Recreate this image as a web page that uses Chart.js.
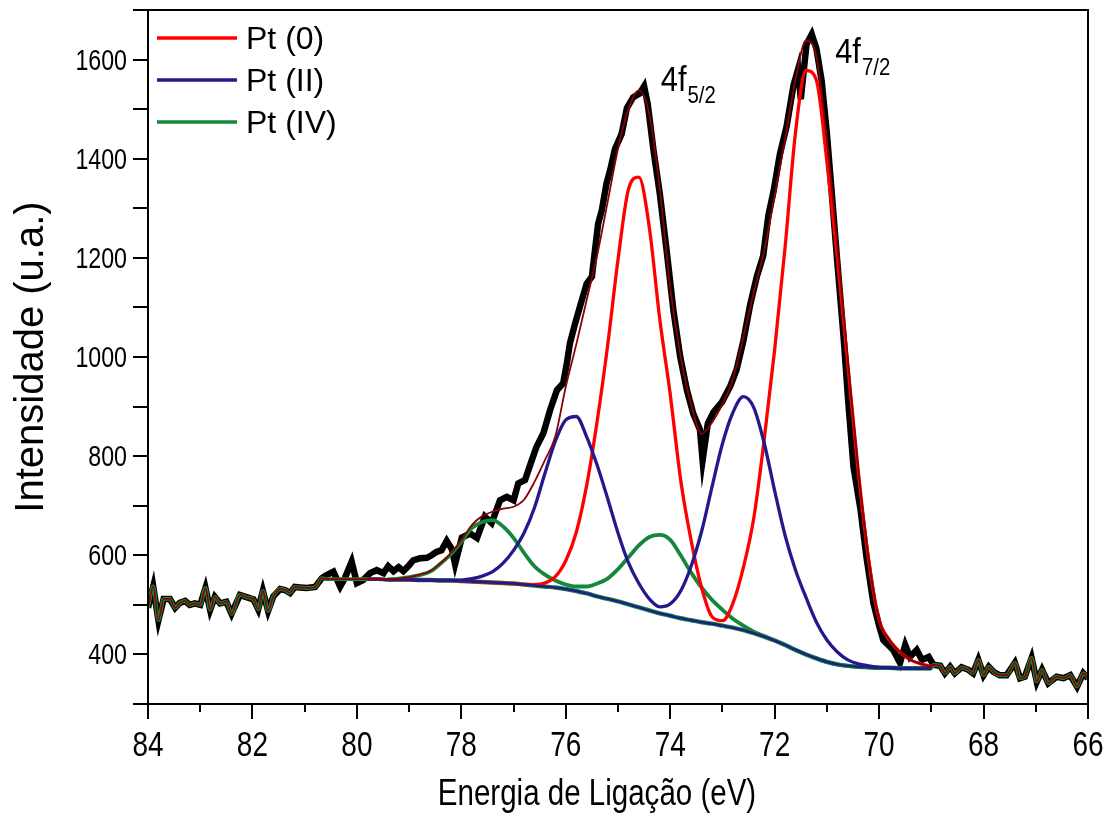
<!DOCTYPE html>
<html>
<head>
<meta charset="utf-8">
<title>Pt 4f XPS</title>
<script src="https://cdn.jsdelivr.net/npm/chart.js@4.4.1/dist/chart.umd.min.js"></script>
<style>
    html, body { margin: 0; padding: 0; background: #fff; }
</style>
</head>
<body>
<canvas id="xps-chart" width="1111" height="813"></canvas>
<script>
// Measured spectrum (binding energy in eV / counts)
const dataEnergy = [84.00, 83.90, 83.80, 83.70, 83.58, 83.48, 83.39, 83.29, 83.20, 83.10,
    83.00, 82.90, 82.81, 82.72, 82.62, 82.50, 82.40, 82.24, 82.10, 81.98,
    81.89, 81.80, 81.70, 81.60, 81.47, 81.38, 81.28, 81.19, 81.09, 80.96,
    80.80, 80.67, 80.58, 80.45, 80.32, 80.23, 80.10, 80.00, 79.88, 79.75,
    79.62, 79.49, 79.40, 79.30, 79.20, 79.11, 79.00, 78.92, 78.79, 78.66,
    78.57, 78.47, 78.38, 78.28, 78.18, 78.12, 77.99, 77.83, 77.70, 77.55,
    77.42, 77.26, 77.13, 77.00, 76.91, 76.78, 76.65, 76.56, 76.43, 76.30,
    76.17, 76.05, 75.98, 75.92, 75.82, 75.73, 75.60, 75.50, 75.44, 75.38,
    75.31, 75.22, 75.15, 75.06, 74.93, 74.83, 74.71, 74.58, 74.50, 74.43,
    74.32, 74.20, 74.07, 73.94, 73.81, 73.68, 73.56, 73.43, 73.38, 73.28,
    73.17, 73.01, 72.85, 72.73, 72.60, 72.47, 72.34, 72.22, 72.12, 72.02,
    71.90, 71.77, 71.64, 71.55, 71.50, 71.39, 71.29, 71.20, 71.10, 71.00,
    70.91, 70.81, 70.68, 70.59, 70.49, 70.36, 70.24, 70.11, 70.00, 69.92,
    69.73, 69.60, 69.50, 69.41, 69.28, 69.18, 69.05, 68.96, 68.83, 68.74,
    68.64, 68.55, 68.42, 68.29, 68.20, 68.10, 68.00, 67.90, 67.81, 67.69,
    67.56, 67.40, 67.30, 67.21, 67.08, 66.98, 66.88, 66.76, 66.60, 66.47,
    66.34, 66.21, 66.09, 66.00];
const dataCounts = [494, 537, 469, 512, 512, 494, 504, 508, 500, 503,
    500, 534, 490, 516, 503, 506, 482, 520, 515, 511,
    491, 528, 488, 517, 532, 530, 524, 536, 535, 534,
    536, 554, 560, 567, 537, 554, 587, 544, 550, 564,
    570, 564, 578, 568, 576, 568, 580, 590, 594, 595,
    600, 607, 610, 629, 612, 582, 636, 644, 635, 678,
    665, 711, 718, 711, 745, 752, 792, 819, 846, 893,
    933, 947, 987, 1028, 1068, 1101, 1148, 1162, 1216, 1269,
    1296, 1350, 1377, 1419, 1450, 1502, 1524, 1532, 1546, 1510,
    1417, 1330, 1216, 1095, 1001, 933, 886, 853, 792, 866,
    889, 909, 941, 974, 1032, 1105, 1163, 1204, 1286, 1335,
    1409, 1466, 1548, 1581, 1520, 1631, 1651, 1622, 1557, 1450,
    1335, 1204, 1040, 909, 778, 695, 595, 504, 458, 429,
    409, 383, 419, 395, 409, 389, 395, 379, 377, 362,
    375, 362, 374, 369, 362, 389, 358, 375, 365, 358,
    358, 383, 352, 355, 393, 345, 369, 342, 355, 352,
    358, 335, 362, 352];

// Fit grid and fitted curves (components sit on the background)
const fitEnergy = [80.6, 80.4, 80.2, 80.0, 79.8, 79.6, 79.4, 79.2, 79.0, 78.8,
    78.6, 78.4, 78.2, 78.0, 77.8, 77.6, 77.4, 77.2, 77.0, 76.8,
    76.6, 76.4, 76.2, 76.0, 75.8, 75.6, 75.4, 75.2, 75.0, 74.8,
    74.6, 74.4, 74.2, 74.0, 73.8, 73.6, 73.4, 73.2, 73.0, 72.8,
    72.6, 72.4, 72.2, 72.0, 71.8, 71.6, 71.4, 71.2, 71.0, 70.8,
    70.6, 70.4, 70.2, 70.0, 69.8, 69.6, 69.4, 69.2, 69.0];
const backgroundFit = [null, null, null, null, null, null, 551, 551, 551, 550,
    550, 549, 549, 548, 547, 546, 545, 544, 543, 541,
    539, 537, 535, 532, 528, 523, 517, 512, 507, 501,
    495, 489, 483, 478, 473, 469, 465, 462, 458, 454,
    449, 443, 436, 428, 419, 409, 400, 392, 385, 380,
    377, 375, 374, 373, 373, 372, 372, 372, 372];
const pt0Fit = [null, null, null, null, 552, 552, 551, 551, 551, 550,
    550, 549, 549, 548, 547, 546, 545, 544, 543, 541,
    541, 544, 557, 589, 646, 741, 870, 1022, 1196, 1338,
    1363, 1261, 1076, 925, 752, 630, 535, 476, 468, 503,
    575, 675, 834, 1015, 1222, 1454, 1578, 1558, 1395, 1200,
    985, 770, 590, 470, 429, 405, 389, 381, 376];
const pt2Fit = [null, null, null, null, 552, 552, 551, 551, 551, 550,
    550, 550, 550, 550, 553, 558, 567, 584, 610, 645,
    696, 765, 830, 873, 880, 839, 782, 715, 645, 585,
    543, 512, 496, 502, 528, 578, 648, 738, 825, 888,
    920, 898, 826, 730, 640, 570, 515, 465, 429, 405,
    389, 381, 377, 374, 373, 372, 372, 372, 372];
const pt4Fit = [552, 552, 552, 552, 552, 552, 551, 553, 556, 560,
    567, 583, 602, 627, 655, 667, 671, 658, 635, 605,
    578, 561, 549, 541, 537, 537, 543, 553, 572, 596,
    620, 637, 641, 631, 600, 565, 535, 510, 490, 472,
    458, 446, 437, 428, 419, 409, 400, 392, 385, 380,
    377, 375, 374, 373, 373, 372, 372, 372, 372];
const envelopeFit = [552, 552, 552, 552, 552, 552, 551, 553, 556, 561,
    568, 584, 604, 630, 661, 679, 688, 694, 698, 712,
    748, 792, 840, 940, 1025, 1115, 1205, 1312, 1420, 1500,
    1538, 1490, 1340, 1140, 1000, 905, 845, 868, 905, 955,
    1040, 1130, 1215, 1325, 1440, 1560, 1638, 1605, 1440, 1225,
    997, 776, 593, 470, 429, 405, 389, 381, 376];

// Ends of the spectrum outside the fit window
const fitWindow = [68.96, 80.67];

const xTickLabels = [84, 82, 80, 78, 76, 74, 72, 70, 68, 66];
const yTickLabels = [400, 600, 800, 1000, 1200, 1400, 1600];

const legendNames = ['Pt (0)', 'Pt (II)', 'Pt (IV)'];
const legendColors = ['#ff0000', '#221a8c', '#15873a'];

const peakSubscripts = ['5/2', '7/2'];
const peakLabelEnergy = [74.18, 70.84];
const peakLabelCounts = [1536, 1593];

const FONT = '"Liberation Sans", Arial, sans-serif';

function toPoints(xs, ys) {
    return xs.map((x, i) => ({ x: x, y: ys[i] }));
}

const dataPoints = toPoints(dataEnergy, dataCounts);
const headPoints = dataPoints.filter(p => p.x >= fitWindow[1]);
const tailPoints = dataPoints.filter(p => p.x <= fitWindow[0]);

function withEnds(values) {
    return headPoints.concat(toPoints(fitEnergy, values), tailPoints);
}

// the original figure is squeezed horizontally, so text is drawn narrowed
function narrowText(ctx, text, x, y, size, align, sx) {
    ctx.save();
    ctx.font = size + 'px ' + FONT;
    ctx.textAlign = align;
    ctx.textBaseline = 'alphabetic';
    ctx.translate(x, y);
    ctx.scale(sx, 1);
    ctx.fillText(text, 0, 0);
    const w = ctx.measureText(text).width * sx;
    ctx.restore();
    return w;
}

const framePlugin = {
    id: 'frame',
    afterDatasetsDraw(chart) {
        const { ctx, chartArea: a, scales } = chart;
        const x = scales.x, y = scales.y;
        ctx.save();
        ctx.strokeStyle = '#000';
        ctx.lineWidth = 2;
        ctx.strokeRect(a.left, a.top, a.right - a.left, a.bottom - a.top);

        // tick marks, outside the frame
        ctx.beginPath();
        y.ticks.forEach(t => {
            const py = Math.round(y.getPixelForValue(t.value));
            ctx.moveTo(a.left - 15, py);
            ctx.lineTo(a.left, py);
        });
        x.ticks.forEach(t => {
            const px = Math.round(x.getPixelForValue(t.value));
            const len = xTickLabels.includes(t.value) ? 15 : 8;
            ctx.moveTo(px, a.bottom);
            ctx.lineTo(px, a.bottom + len);
        });
        ctx.stroke();

        // tick labels and x title
        ctx.fillStyle = '#000';
        xTickLabels.forEach(v => {
            narrowText(ctx, String(v), x.getPixelForValue(v), a.bottom + 52, 35, 'center', 0.8);
        });
        yTickLabels.forEach(v => {
            narrowText(ctx, String(v), a.left - 21, y.getPixelForValue(v) + 10, 29, 'right', 0.8);
        });
        narrowText(ctx, 'Energia de Ligação (eV)', 597, 805, 36, 'center', 0.82);

        // legend
        legendNames.forEach((name, i) => {
            const ly = a.top + 28 + i * 42;
            ctx.strokeStyle = legendColors[i];
            ctx.lineWidth = 3.5;
            ctx.beginPath();
            ctx.moveTo(a.left + 9, ly);
            ctx.lineTo(a.left + 89, ly);
            ctx.stroke();
            ctx.fillStyle = '#000';
            ctx.font = '32px ' + FONT;
            ctx.textAlign = 'left';
            ctx.textBaseline = 'alphabetic';
            ctx.fillText(name, a.left + 98, ly + 11);
        });

        // peak labels
        peakSubscripts.forEach((sub, i) => {
            const px = x.getPixelForValue(peakLabelEnergy[i]);
            const py = y.getPixelForValue(peakLabelCounts[i]);
            const w = narrowText(ctx, '4f', px, py, 35, 'left', 0.88);
            narrowText(ctx, sub, px + w + 1, py + 12, 24, 'left', 0.85);
        });
        ctx.restore();
    }
};

const ctx = document.getElementById('xps-chart').getContext('2d');
new Chart(ctx, {
    type: 'scatter',
    data: {
        datasets: [
            {
                label: 'Envelope',
                data: withEnds(envelopeFit),
                borderColor: '#8b0000',
                borderWidth: 1.8,
                cubicInterpolationMode: 'monotone',
                order: 0
            },
            {
                label: 'Background',
                data: toPoints(fitEnergy, backgroundFit),
                borderColor: legendColors[1],
                borderWidth: 2.4,
                cubicInterpolationMode: 'monotone',
                order: 1
            },
            {
                label: 'Pt (II)',
                data: toPoints(fitEnergy, pt2Fit),
                borderColor: legendColors[1],
                borderWidth: 3.3,
                cubicInterpolationMode: 'monotone',
                order: 2
            },
            {
                label: 'Pt (0)',
                data: toPoints(fitEnergy, pt0Fit),
                borderColor: legendColors[0],
                borderWidth: 3.3,
                cubicInterpolationMode: 'monotone',
                order: 3
            },
            {
                label: 'Pt (IV)',
                data: withEnds(pt4Fit),
                borderColor: legendColors[2],
                borderWidth: 3.8,
                cubicInterpolationMode: 'monotone',
                order: 4
            },
            {
                label: 'Background edge',
                data: toPoints(fitEnergy, backgroundFit),
                borderColor: legendColors[2],
                borderWidth: 4.4,
                cubicInterpolationMode: 'monotone',
                order: 5
            },
            {
                label: 'Data',
                data: dataPoints,
                borderColor: '#000',
                borderWidth: 6.5,
                borderJoinStyle: 'miter',
                order: 6
            }
        ]
    },
    options: {
        responsive: false,
        animation: false,
        showLine: true,
        spanGaps: false,
        layout: { padding: { top: 10, right: 23, left: 0, bottom: 0 } },
        elements: { point: { radius: 0, hoverRadius: 0 } },
        plugins: {
            legend: { display: false },
            tooltip: { enabled: false }
        },
        scales: {
            x: {
                type: 'linear',
                reverse: true,
                min: 66,
                max: 84,
                grid: { display: false, drawTicks: false },
                border: { display: false },
                ticks: { display: false, stepSize: 1, autoSkip: false },
                afterFit(scale) {
                    scale.height = 109;
                    scale.paddingLeft = 0;
                    scale.paddingRight = 0;
                }
            },
            y: {
                min: 300,
                max: 1700,
                grid: { display: false, drawTicks: false },
                border: { display: false },
                ticks: { display: false, stepSize: 100, autoSkip: false },
                title: {
                    display: true,
                    text: 'Intensidade (u.a.)',
                    color: '#000',
                    font: { family: FONT, size: 40 },
                    padding: { top: 8, bottom: 0 }
                },
                afterFit(scale) {
                    scale.width = 148;
                    scale.paddingTop = 0;
                    scale.paddingBottom = 0;
                }
            }
        }
    },
    plugins: [framePlugin]
});
</script>
</body>
</html>
